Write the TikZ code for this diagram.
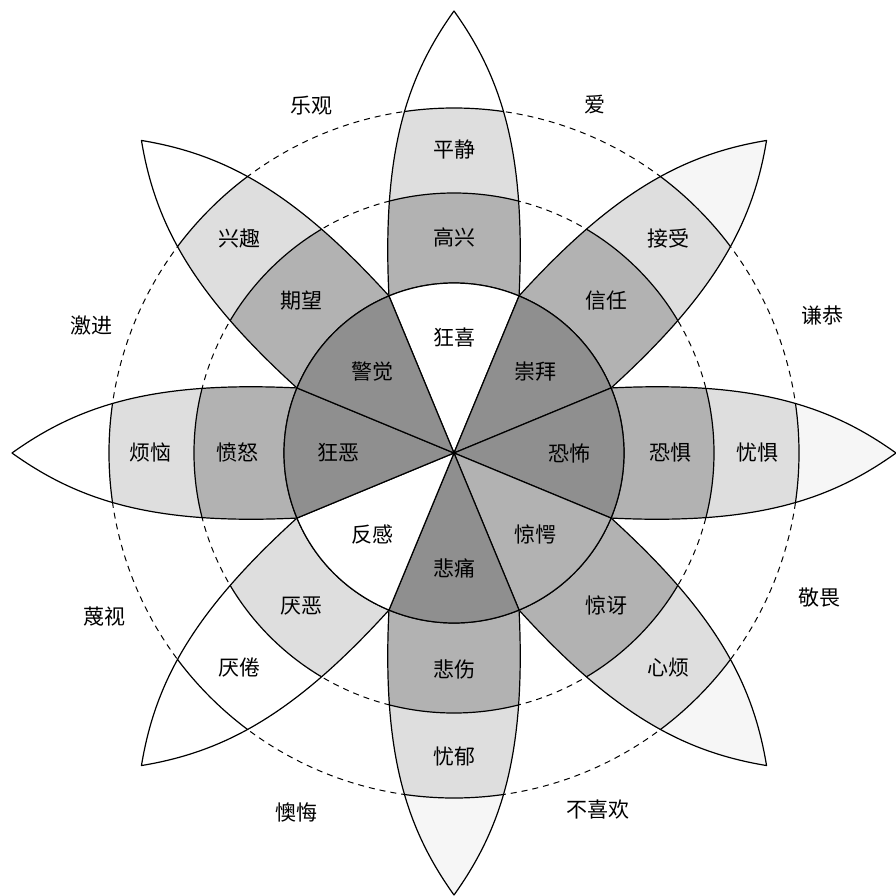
\documentclass[tikz,border=0pt]{standalone}
\usepackage{fontspec}
\newfontfamily\cjk{Noto Sans CJK SC}
\definecolor{cdark}{gray}{0.56}
\definecolor{cmid}{gray}{0.70}
\definecolor{clight}{gray}{0.87}
\definecolor{cfaint}{gray}{0.965}
\definecolor{cwhite}{gray}{1}
\tikzset{
  outline/.style={draw=black, line width=1.2pt, line join=round},
  ringline/.style={draw=black, line width=1.2pt},
  dashring/.style={draw=black, line width=1pt, dash pattern=on 6pt off 5pt},
  lab/.style={font=\cjk\fontsize{21}{24}\selectfont, inner sep=0pt},
}
% #1 angle, #2 inner colour, #3 middle colour, #4 outer colour, #5 tip colour,
% #6 inner label, #7 middle label, #8 outer label, #9 name
\newcommand\drawpetal[9]{%
  \begin{scope}[rotate=#1-90]
    \begin{scope}
      \clip (65.06,157.06) .. controls (72,300) and (48,375) .. (0,442)
            .. controls (-48,375) and (-72,300) .. (-65.06,157.06)
            arc[start angle=112.5, end angle=67.5, radius=170] -- cycle;
      \fill[#5] (0,0) circle[radius=470];
      \fill[#4] (0,0) circle[radius=345];
      \fill[#3] (0,0) circle[radius=260];
      \draw[ringline] (0,0) circle[radius=260] (0,0) circle[radius=345];
    \end{scope}
    \draw[outline] (65.06,157.06) .. controls (72,300) and (48,375) .. (0,442)
            .. controls (-48,375) and (-72,300) .. (-65.06,157.06)
            arc[start angle=112.5, end angle=67.5, radius=170] -- cycle;
    \filldraw[outline, fill=#2] (0,0) -- (67.5:170)
            arc[start angle=67.5, end angle=112.5, radius=170] -- cycle;
  \end{scope}
  \node[lab] (#9in) at (#1:115) {#6};
  \node[lab] (#9mid) at (#1:216) {#7};
  \node[lab] (#9out) at (#1:303) {#8};
}
\begin{document}
\begin{tikzpicture}[x=1pt, y=1pt]
  \useasboundingbox[fill=white] (-454,-442) rectangle (442,453);
  \draw[dashring] (0,0) circle[radius=260];
  \draw[dashring] (0,0) circle[radius=345];

  \drawpetal{90}{cwhite}{cmid}{clight}{cwhite}{狂喜}{高兴}{平静}{joy}
  \drawpetal{45}{cdark}{cmid}{clight}{cfaint}{崇拜}{信任}{接受}{trust}
  \drawpetal{0}{cdark}{cmid}{clight}{cfaint}{恐怖}{恐惧}{忧惧}{fear}
  \drawpetal{-45}{cmid}{cmid}{clight}{cfaint}{惊愕}{惊讶}{心烦}{surprise}
  \drawpetal{-90}{cdark}{cmid}{clight}{cfaint}{悲痛}{悲伤}{忧郁}{sadness}
  \drawpetal{-135}{cwhite}{clight}{cwhite}{cwhite}{反感}{厌恶}{厌倦}{disgust}
  \drawpetal{180}{cdark}{cmid}{clight}{cwhite}{狂恶}{愤怒}{烦恼}{anger}
  \drawpetal{135}{cdark}{cmid}{clight}{cwhite}{警觉}{期望}{兴趣}{anticip}

  \node[lab] (optimism) at (-142,347) {乐观};
  \node[lab] (love) at (141,348) {爱};
  \node[lab] (submission) at (368,138) {谦恭};
  \node[lab] (awe) at (365,-145) {敬畏};
  \node[lab] (disapproval) at (144,-357) {不喜欢};
  \node[lab] (remorse) at (-157,-359) {懊悔};
  \node[lab] (contempt) at (-349,-164) {蔑视};
  \node[lab] (aggressive) at (-362,127) {激进};
\end{tikzpicture}
\end{document}
